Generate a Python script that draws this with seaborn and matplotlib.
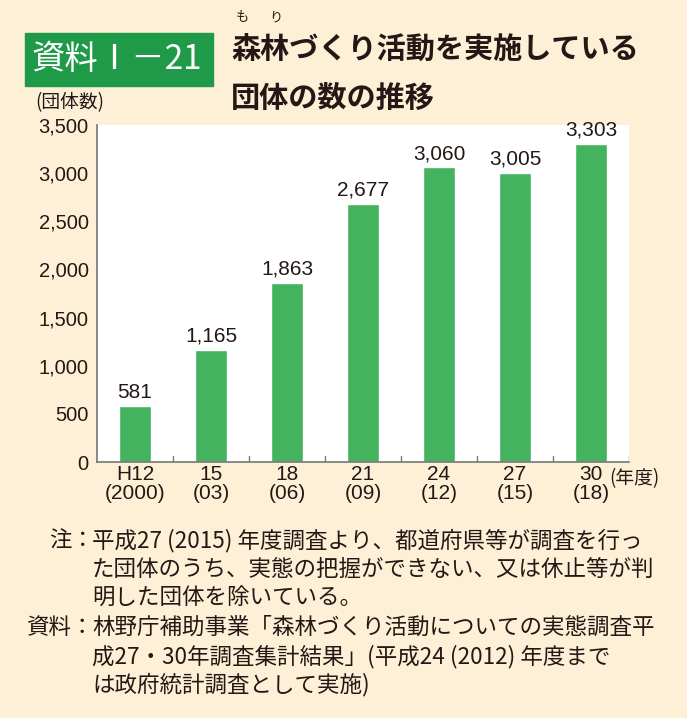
import matplotlib
matplotlib.use("Agg")
import matplotlib.pyplot as plt
import seaborn as sns
import pandas as pd
from matplotlib.patches import Rectangle

# data
years = ["H12\n(2000)", "15\n(03)", "18\n(06)", "21\n(09)", "24\n(12)", "27\n(15)", "30\n(18)"]
groups = [581, 1165, 1863, 2677, 3060, 3005, 3303]
yticks = [0, 500, 1000, 1500, 2000, 2500, 3000, 3500]

sns.set_style("white")
plt.rcParams['font.family'] = ['Noto Sans CJK JP', 'DejaVu Sans']

bg = "#FDF0D6"
bar_color = "#44B35D"
text_color = "#231815"
num_font = ['Liberation Sans', 'DejaVu Sans']
narrow_font = ['Liberation Sans Narrow', 'Liberation Sans', 'DejaVu Sans']

df = pd.DataFrame({"year": years, "groups": groups})

fig = plt.figure(figsize=(6.87, 7.18), dpi=100, facecolor=bg)
ax = fig.add_axes([97/687, 1 - 462/718, 532/687, 337/718])
ax.set_facecolor("white")

sns.barplot(data=df, x="year", y="groups", color=bar_color, width=0.42,
            saturation=1, ax=ax)

for i, v in enumerate(groups):
    ax.text(i, v + 45, f"{v:,}", ha="center", va="bottom", fontsize=15,
            color=text_color, family=num_font)

ax.set_ylim(0, 3500)
ax.set_xlim(-0.5, len(years) - 0.5)
ax.set_yticks(yticks)
ax.set_yticklabels([f"{t:,}" for t in yticks], fontsize=14.5, color=text_color,
                   family=num_font)
ax.set_xticks(range(len(years)))
ax.set_xticklabels(years, fontsize=15, color=text_color, linespacing=1.0,
                   family=narrow_font)
ax.tick_params(axis="x", length=0, pad=2)
ax.tick_params(axis="y", direction="in", length=5, color="#777777", pad=6)
# category separators on the x axis
for b in range(1, len(years) + 1):
    ax.plot([b - 0.5, b - 0.5], [0, 60], color="#777777", lw=1)
ax.set_xlabel("")
ax.set_ylabel("")
for s in ["top", "right"]:
    ax.spines[s].set_visible(False)
for s in ["left", "bottom"]:
    ax.spines[s].set_color("#777777")
    ax.spines[s].set_linewidth(1.2)

fig.text(35/687, 1 - 103/718, "(団体数)", fontsize=13.5, color=text_color, va="center")
fig.text(609/687, 1 - 479/718, "(年度)", fontsize=13.5, color=text_color, va="center")

# title block
fig.patches.append(Rectangle((25/687, 1 - 86/718), 188/687, 53/718,
                             transform=fig.transFigure, color="#1E9A48"))
fig.text(117/687, 1 - 60/718, "資料Ⅰ－21", fontsize=24, color="white",
         ha="center", va="center")
fig.text(231/687, 1 - 49/718, "森林づくり活動を実施している", fontsize=21,
         color=text_color, va="center", fontweight="bold")
fig.text(231/687, 1 - 98/718, "団体の数の推移", fontsize=21,
         color=text_color, va="center", fontweight="bold")
fig.text(242/687, 1 - 18/718, "も", fontsize=9.5, color=text_color, ha="center", va="center")
fig.text(276/687, 1 - 18/718, "り", fontsize=9.5, color=text_color, ha="center", va="center")

# notes
notes = [
    ("注：", "平成27 (2015) 年度調査より、都道府県等が調査を行っ"),
    ("", "た団体のうち、実態の把握ができない、又は休止等が判"),
    ("", "明した団体を除いている。"),
    ("資料：", "林野庁補助事業「森林づくり活動についての実態調査平"),
    ("", "成27・30年調査集計結果」(平成24 (2012) 年度まで"),
    ("", "は政府統計調査として実施)"),
]
for k, (head, line) in enumerate(notes):
    y = 1 - (541 + k * 28.8) / 718
    if head:
        fig.text(94/687, y, head, fontsize=16.2, color=text_color, ha="right", va="center")
    fig.text(92/687, y, line, fontsize=16.2, color=text_color, ha="left", va="center")

fig.savefig("out.png", dpi=100, facecolor=bg)
